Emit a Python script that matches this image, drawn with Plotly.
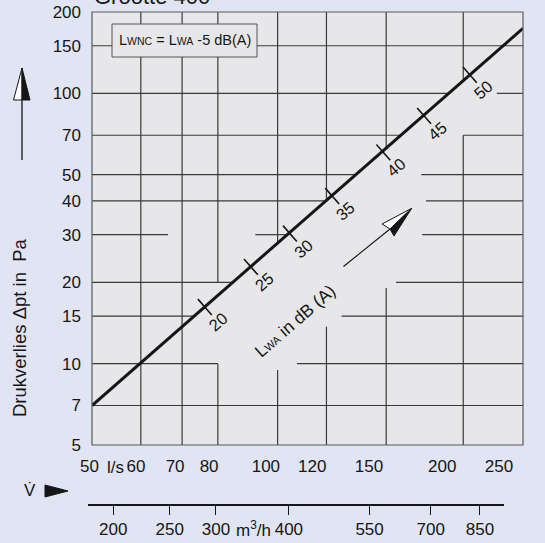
import math
import plotly.graph_objects as go

# ---------------- data ----------------
flow_ls = [50, 250]            # main line, l/s
dp_pa = [7, 174]               # main line, Pa
db_levels = [20, 25, 30, 35, 40, 45, 50]
db_flow = [76.2, 90.5, 104.7, 122.6, 148.4, 172.8, 205]
db_dp = [16.2, 22.8, 30.3, 41.7, 60.5, 82.5, 117]
x_ticks = [50, 60, 70, 80, 100, 120, 150, 200, 250]
y_ticks = [5, 7, 10, 15, 20, 30, 40, 50, 70, 100, 150, 200]
m3h_ticks = [200, 250, 300, 400, 550, 700, 850]

# grid segments: horizontal (Pa, from l/s, to l/s)
h_grid = [
    (7, 50, 250), (10, 50, 80), (10, 107.5, 250),
    (15, 50, 73.2), (15, 127, 250), (20, 50, 84.5), (20, 155.6, 250),
    (30, 50, 66.4), (30, 92, 103.5), (30, 171.6, 250),
    (40, 50, 119.5), (40, 174, 250), (50, 50, 133.6), (50, 171, 250),
    (70, 50, 158), (70, 200, 250), (100, 50, 189), (100, 226.7, 250),
    (150, 50, 250),
]
# vertical (l/s, from Pa, to Pa)
v_grid = [
    (60, 5, 200), (70, 5, 200), (80, 5, 10), (80, 20, 200),
    (100, 5, 9.47), (100, 28, 200), (120, 5, 13.7), (120, 40.3, 200),
    (150, 5, 19.05), (150, 63, 200), (200, 5, 70), (200, 112, 200),
]

# ---------------- geometry ----------------
W, H = 545, 543
ML, MR, MT, MB = 88, 22, 12, 38
PW, PH = W - ML - MR, H - MT - MB


def px(x):
    return (x - ML) / PW


def py(y):
    return (H - MB - y) / PH


OUTER = "#e1e4f2"
PLOTBG = "#e7e7e9"
INK = "#161616"
FONT = "Liberation Sans, Arial, sans-serif"

fig = go.Figure()

gx, gy = [], []
for p, q0, q1 in h_grid:
    gx += [q0, q1, None]
    gy += [p, p, None]
for q, p0, p1 in v_grid:
    gx += [q, q, None]
    gy += [p0, p1, None]
fig.add_trace(go.Scatter(x=gx, y=gy, mode="lines", line=dict(color="#3a3a3a", width=1.2),
                         hoverinfo="skip", showlegend=False))

fig.add_trace(go.Scatter(x=flow_ls, y=dp_pa, mode="lines", line=dict(color=INK, width=3),
                         hoverinfo="skip", showlegend=False))
fig.add_trace(go.Scatter(x=db_flow, y=db_dp, mode="markers",
                         marker=dict(symbol="line-ns", size=15, angle=-41.2,
                                     line=dict(color=INK, width=1.6)),
                         hoverinfo="skip", showlegend=False))
# invisible traces for the label axes
fig.add_trace(go.Scatter(x=flow_ls, y=dp_pa, xaxis="x3", yaxis="y", mode="lines",
                         opacity=0, hoverinfo="skip", showlegend=False))
fig.add_trace(go.Scatter(x=[m3h_ticks[0], m3h_ticks[-1]], y=dp_pa, xaxis="x2", yaxis="y",
                         mode="lines", opacity=0, hoverinfo="skip", showlegend=False))

annotations = []
for lv, q, p in zip(db_levels, db_flow, db_dp):
    annotations.append(dict(x=math.log10(q), y=math.log10(p), xref="x", yref="y",
                            text=str(lv), showarrow=False, textangle=-41,
                            xshift=13, yshift=-15, font=dict(size=16.5, color=INK)))

annotations += [
    dict(x=px(92), y=py(10.7), xref="paper", yref="paper", xanchor="left", yanchor="bottom",
         text="Grootte 400", showarrow=False, font=dict(size=22, color=INK)),
    dict(x=px(105), y=py(467), xref="paper", yref="paper", xanchor="left", yanchor="middle",
         text="l/s", showarrow=False, font=dict(size=17, color=INK)),
    dict(x=px(234), y=py(529), xref="paper", yref="paper", xanchor="left", yanchor="middle",
         text="m<sup>3</sup>/h", showarrow=False, font=dict(size=17, color=INK)),
    dict(x=px(30), y=py(490), xref="paper", yref="paper", xanchor="center", yanchor="middle",
         text="V\u0307", showarrow=False, font=dict(size=17, color=INK)),
    dict(x=px(20), y=py(328), xref="paper", yref="paper", xanchor="center", yanchor="middle",
         text="Drukverlies \u0394pt in\u00a0 Pa", textangle=-90, showarrow=False,
         font=dict(size=18.5, color=INK)),
    dict(x=px(295), y=py(321), xref="paper", yref="paper", xanchor="center", yanchor="middle",
         text="L<span style='font-size:11px'>WA</span> in dB (A)", textangle=-41,
         showarrow=False, font=dict(size=17.5, color=INK)),
    dict(x=px(184.5), y=py(40.5), xref="paper", yref="paper", xanchor="center", yanchor="middle",
         text="L<span style='font-size:10.5px'>WNC</span> = L<span style='font-size:10.5px'>WA</span> -5 dB(A)",
         showarrow=False, font=dict(size=14.5, color=INK)),
]


def path(points):
    s = "M " + " L ".join(f"{px(a):.5f},{py(b):.5f}" for a, b in points) + " Z"
    return s


shapes = [
    dict(type="rect", xref="paper", yref="paper", x0=px(92), x1=px(523), y0=py(445), y1=py(12),
         fillcolor=PLOTBG, line=dict(width=0), layer="below"),
    dict(type="rect", xref="paper", yref="paper", x0=px(92), x1=px(523), y0=py(445), y1=py(12),
         fillcolor="rgba(0,0,0,0)", line=dict(color="#5a5a5a", width=1.2), layer="above"),
    dict(type="rect", xref="paper", yref="paper", x0=px(112), x1=px(257), y0=py(57), y1=py(24),
         fillcolor=PLOTBG, line=dict(color="#555", width=1), layer="above"),
    # vertical arrow next to y title
    dict(type="line", xref="paper", yref="paper", x0=px(22), x1=px(22), y0=py(99), y1=py(160),
         line=dict(color=INK, width=1.3)),
    dict(type="path", xref="paper", yref="paper", path=path([(22, 68), (13.5, 100), (22, 100)]),
         fillcolor="white", line=dict(color=INK, width=1)),
    dict(type="path", xref="paper", yref="paper", path=path([(22, 68), (30, 100), (22, 100)]),
         fillcolor=INK, line=dict(color=INK, width=1)),
    # LWA arrow
    dict(type="line", xref="paper", yref="paper", x0=px(343.5), y0=py(266.5), x1=px(390), y1=py(229),
         line=dict(color=INK, width=1.1)),
    dict(type="path", xref="paper", yref="paper", path=path([(411.7, 208.3), (382, 224), (390, 229)]),
         fillcolor="white", line=dict(color=INK, width=1)),
    dict(type="path", xref="paper", yref="paper", path=path([(411.7, 208.3), (390, 229), (394, 236)]),
         fillcolor=INK, line=dict(color=INK, width=1)),
    # V-dot arrow
    dict(type="path", xref="paper", yref="paper", path=path([(45, 485), (68, 491), (45, 497)]),
         fillcolor=INK, line=dict(color=INK, width=1)),
]

lr = [math.log10(50), math.log10(250)]
fig.update_layout(
    width=W, height=H,
    margin=dict(l=ML, r=MR, t=MT, b=MB, pad=0, autoexpand=False),
    paper_bgcolor=OUTER, plot_bgcolor="rgba(0,0,0,0)",
    font=dict(family=FONT, color=INK, size=17),
    showlegend=False,
    xaxis=dict(type="log", range=lr, domain=[4 / PW, 1], showgrid=False, zeroline=False,
               showline=False, showticklabels=False, ticks="", automargin=False),
    xaxis3=dict(type="log", range=lr, domain=[1.5 / PW, 411 / PW], anchor="y",
                tickvals=x_ticks, ticktext=[str(v) for v in x_ticks], showgrid=False,
                zeroline=False, showline=False, ticks="", ticklabelstandoff=9,
                automargin=False, tickfont=dict(size=17, color=INK)),
    xaxis2=dict(type="log", range=[math.log10(181.1), math.log10(934.6)], domain=[0, 416 / PW],
                anchor="free", position=0, tickvals=m3h_ticks,
                ticktext=[str(v) for v in m3h_ticks], ticks="outside", ticklen=9,
                tickwidth=1.3, tickcolor=INK, showline=True, linecolor=INK, linewidth=2,
                showgrid=False, zeroline=False, automargin=False,
                tickfont=dict(size=17, color=INK)),
    yaxis=dict(type="log", range=[math.log10(5), math.log10(200)], domain=[60 / PH, 1],
               tickvals=y_ticks, ticktext=[str(v) for v in y_ticks], showgrid=False,
               zeroline=False, showline=False, ticks="", ticklabelstandoff=10,
               automargin=False, tickfont=dict(size=17, color=INK)),
    annotations=annotations,
    shapes=shapes,
)

fig.write_html("out.html", config={"displayModeBar": False},
               post_script="document.body.style.margin='0';document.body.style.overflow='hidden';")
